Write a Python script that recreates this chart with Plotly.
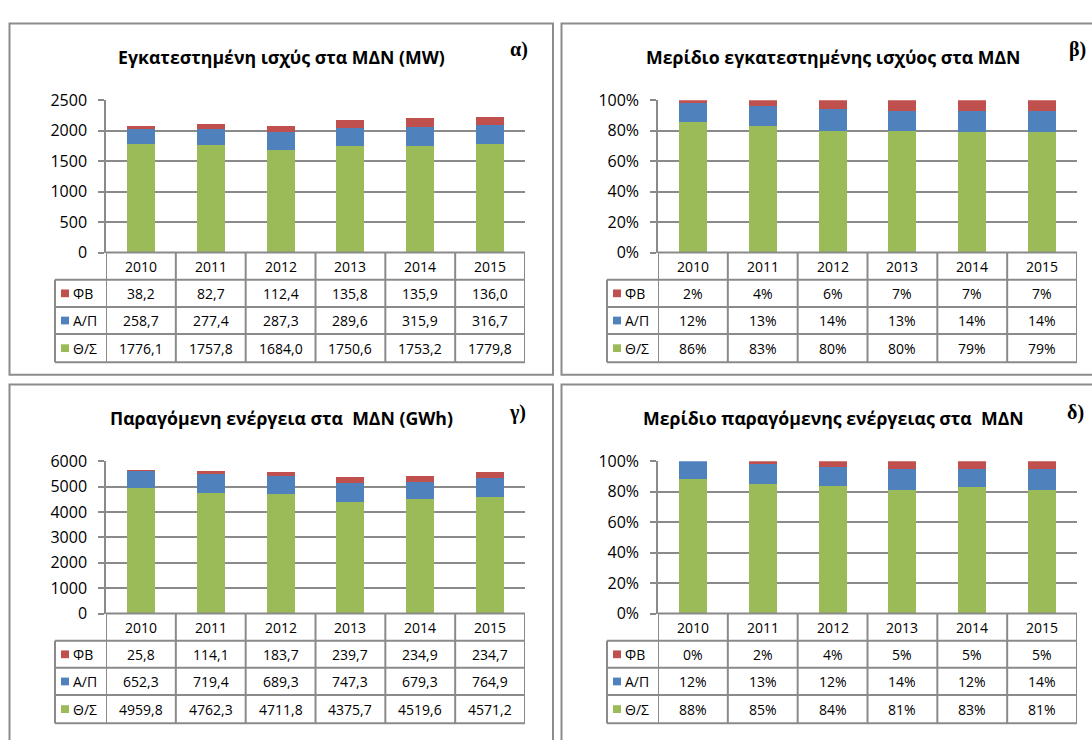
import plotly.graph_objects as go

W, H = 1092, 740

# ---- data -------------------------------------------------------------
years = ["2010", "2011", "2012", "2013", "2014", "2015"]
row_labels = ["ΦΒ", "Α/Π", "Θ/Σ"]

# (a) installed capacity, MW
cap_pv = [38.2, 82.7, 112.4, 135.8, 135.9, 136.0]
cap_ap = [258.7, 277.4, 287.3, 289.6, 315.9, 316.7]
cap_th = [1776.1, 1757.8, 1684.0, 1750.6, 1753.2, 1779.8]

# (b) share of installed capacity, %
cap_share_pv = [2, 4, 6, 7, 7, 7]
cap_share_ap = [12, 13, 14, 13, 14, 14]
cap_share_th = [86, 83, 80, 80, 79, 79]

# (c) generated energy, GWh
en_pv = [25.8, 114.1, 183.7, 239.7, 234.9, 234.7]
en_ap = [652.3, 719.4, 689.3, 747.3, 679.3, 764.9]
en_th = [4959.8, 4762.3, 4711.8, 4375.7, 4519.6, 4571.2]

# (d) share of generated energy, %
en_share_pv = [0, 2, 4, 5, 5, 5]
en_share_ap = [12, 13, 12, 14, 12, 14]
en_share_th = [88, 85, 84, 81, 83, 81]

titles = [
    "Εγκατεστημένη ισχύς στα ΜΔΝ (MW)",
    "Μερίδιο εγκατεστημένης ισχύος στα ΜΔΝ",
    "Παραγόμενη ενέργεια στα  ΜΔΝ (GWh)",
    "Μερίδιο παραγόμενης ενέργειας στα  ΜΔΝ",
]
tags = ["α)", "β)", "γ)", "δ)"]

colors = {"ΦΒ": "#C0504D", "Α/Π": "#4F81BD", "Θ/Σ": "#9BBB59"}


def fmt_num(v):
    return f"{v:.1f}".replace(".", ",")


def fmt_pct(v):
    return f"{v}%"


panels = [
    dict(rows={"ΦΒ": cap_pv, "Α/Π": cap_ap, "Θ/Σ": cap_th}, fmt=fmt_num,
         yrange=[0, 2500], dtick=500, suffix="", col=0, row=0),
    dict(rows={"ΦΒ": cap_share_pv, "Α/Π": cap_share_ap, "Θ/Σ": cap_share_th},
         fmt=fmt_pct, yrange=[0, 100], dtick=20, suffix="%", col=1, row=0),
    dict(rows={"ΦΒ": en_pv, "Α/Π": en_ap, "Θ/Σ": en_th}, fmt=fmt_num,
         yrange=[0, 6000], dtick=1000, suffix="", col=0, row=1),
    dict(rows={"ΦΒ": en_share_pv, "Α/Π": en_share_ap, "Θ/Σ": en_share_th},
         fmt=fmt_pct, yrange=[0, 100], dtick=20, suffix="%", col=1, row=1),
]

# ---- geometry helpers (pixels -> paper) ---------------------------------
def px(x):
    return x / W


def py(y):
    return 1 - y / H


GRID = "#8a8a8a"
FONT = "Open Sans"
DX, DY = 552, 372


def label(xref, x, y, text, size=14, family=FONT, xanchor="center"):
    return dict(xref=xref, yref="paper", x=x, y=y, text=text,
                showarrow=False, xanchor=xanchor, yanchor="middle",
                font=dict(family=family, size=size, color="#000"))


fig = go.Figure()
shapes, annotations = [], []
layout = {}

for k, p in enumerate(panels):
    n = k + 1
    dx, dy = DX * p["col"], DY * p["row"]
    xa = "x" if n == 1 else f"x{n}"
    ya = "y" if n == 1 else f"y{n}"

    plot_l, plot_r = 106 + dx, 525 + dx
    plot_t, plot_b = 92 + dy, 249 + dy
    leg_l = 55 + dx
    row_edges = [249 + dy, 277 + dy, 305 + dy, 333 + dy, 362 + dy]

    # frame around each panel
    shapes.append(dict(type="rect", xref="paper", yref="paper",
                       x0=px(9.5 + dx), x1=px(553 + dx + (60 if p["col"] else 0)),
                       y0=py(375 + dy + (30 if p["row"] else 0)), y1=py(13 + dy),
                       line=dict(color="#8c8c8c", width=2), layer="below"))

    # stacked bars
    for name in ["Θ/Σ", "Α/Π", "ΦΒ"]:
        fig.add_trace(go.Bar(x=years, y=p["rows"][name], name=name,
                             marker=dict(color=colors[name], line=dict(width=0)),
                             width=0.4, xaxis=xa, yaxis=ya, showlegend=False,
                             hoverinfo="skip"))

    layout["xaxis" if n == 1 else f"xaxis{n}"] = dict(
        domain=[px(plot_l), px(plot_r)], anchor=ya, type="category",
        range=[-0.5, 5.5], showticklabels=False, showgrid=False,
        zeroline=False, showline=False, ticks="")
    layout["yaxis" if n == 1 else f"yaxis{n}"] = dict(
        domain=[py(plot_b), py(plot_t)], anchor=xa, range=p["yrange"],
        dtick=p["dtick"], ticksuffix=p["suffix"], showgrid=True,
        gridcolor=GRID, gridwidth=1.5, zeroline=False, showline=True,
        linecolor=GRID, linewidth=1.5, ticks="outside", ticklen=6,
        tickcolor=GRID, tickwidth=1.5, ticklabelstandoff=8,
        tickfont=dict(family=FONT, size=16, color="#000"))

    # table grid: horizontal lines
    shapes.append(dict(type="line", xref=xa, yref="paper", x0=-0.5, x1=5.5,
                       y0=py(row_edges[0]), y1=py(row_edges[0]),
                       line=dict(color=GRID, width=2)))
    for ry in row_edges[1:]:
        shapes.append(dict(type="line", xref="paper", yref="paper",
                           x0=px(leg_l), x1=px(plot_r), y0=py(ry), y1=py(ry),
                           line=dict(color=GRID, width=2)))
    # vertical lines
    for j in range(7):
        shapes.append(dict(type="line", xref=xa, yref="paper",
                           x0=j - 0.5, x1=j - 0.5,
                           y0=py(row_edges[0]), y1=py(row_edges[-1]),
                           line=dict(color=GRID, width=2)))
    shapes.append(dict(type="line", xref="paper", yref="paper",
                       x0=px(leg_l), x1=px(leg_l),
                       y0=py(row_edges[1]), y1=py(row_edges[-1]),
                       line=dict(color=GRID, width=2)))

    # header row: years
    hy = (row_edges[0] + row_edges[1]) / 2
    for j, yr in enumerate(years):
        annotations.append(label(xa, j, py(hy), yr))

    # data rows with legend keys
    for r, name in enumerate(row_labels):
        cy = (row_edges[r + 1] + row_edges[r + 2]) / 2
        shapes.append(dict(type="rect", xref="paper", yref="paper",
                           x0=px(leg_l + 6), x1=px(leg_l + 14),
                           y0=py(cy + 4), y1=py(cy - 4),
                           fillcolor=colors[name], line=dict(width=0)))
        annotations.append(label("paper", px(leg_l + 16), py(cy), name,
                                 xanchor="left"))
        for j, v in enumerate(p["rows"][name]):
            annotations.append(label(xa, j, py(cy), p["fmt"](v)))

    # title and panel tag
    annotations.append(label("paper", px(281 + dx), py(47 + dy),
                             f"<b>{titles[k]}</b>", size=17.7))
    tag_x = 519 + dx + (6 if p["col"] else 0) - (2 if p["row"] else 0)
    annotations.append(label("paper", px(tag_x), py(40 + dy + 2 * p["row"]),
                             f"<b>{tags[k]}</b>", size=20,
                             family="Liberation Serif"))

fig.update_layout(
    width=W, height=H, margin=dict(l=0, r=0, t=0, b=0),
    paper_bgcolor="white", plot_bgcolor="white",
    barmode="stack", showlegend=False,
    shapes=shapes, annotations=annotations, **layout)

fig.write_html("out.html")
